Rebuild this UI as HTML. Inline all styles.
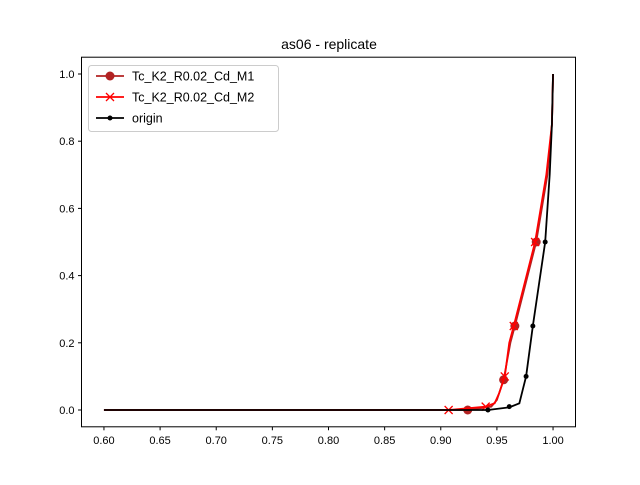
<!DOCTYPE html>
<html><head><meta charset="utf-8"><style>
body{margin:0;background:#fff}
svg{font-family:"Liberation Sans","DejaVu Sans",sans-serif}
</style></head><body>
<svg id="c" width="640" height="480"></svg>
<script>
const originX=[0.6,0.942,0.961,0.970,0.973,0.976,0.982,0.993,0.997,0.999,1.0];
const originY=[0,0,0.008,0.02,0.06,0.1,0.25,0.5,0.7,0.85,1.0];
const originMX=[0.942,0.961,0.976,0.982,0.993];
const originMY=[0,0.01,0.1,0.25,0.5];
const m1X=[0.6,0.924,0.945,0.95,0.954,0.956,0.962,0.966,0.985,0.995,0.999,1.0];
const m1Y=[0,0,0.01,0.03,0.07,0.09,0.2,0.25,0.5,0.7,0.85,1.0];
const m1MX=[0.924,0.956,0.966,0.985];
const m1MY=[0,0.09,0.25,0.5];
const m2X=[0.6,0.907,0.94,0.948,0.952,0.957,0.961,0.965,0.984,0.994,0.999,1.0];
const m2Y=[0,0,0.01,0.02,0.05,0.1,0.2,0.25,0.5,0.7,0.85,1.0];
const m2MX=[0.907,0.94,0.957,0.965,0.984];
const m2MY=[0,0.01,0.1,0.25,0.5];
const xTicks=[0.60,0.65,0.70,0.75,0.80,0.85,0.90,0.95,1.00];
const yTicks=[0.0,0.2,0.4,0.6,0.8,1.0];
const L=81.5,R=575.5,T=57.2,B=426.8,x0=0.58,x1=1.02,y0=-0.05,y1=1.05;
const sx=v=>L+(v-x0)/(x1-x0)*(R-L), sy=v=>B-(v-y0)/(y1-y0)*(B-T);
const svg=document.getElementById('c');const NS='http://www.w3.org/2000/svg';
function el(t,a,p){const e=document.createElementNS(NS,t);for(const k in a)e.setAttribute(k,a[k]);(p||svg).appendChild(e);return e;}
const title=el('text',{x:329,y:49,'text-anchor':'middle','font-size':14});title.textContent='as06 - replicate';


xTicks.forEach(v=>{const x=sx(v);el('line',{x1:x,x2:x,y1:B,y2:B+3.5,stroke:'#000'});const t=el('text',{x:x,y:B+17,'text-anchor':'middle','font-size':11});t.textContent=v.toFixed(2);

});
yTicks.forEach(v=>{const y=sy(v);el('line',{x1:L-3.5,x2:L,y1:y,y2:y,stroke:'#000'});const t=el('text',{x:L-7,y:y+4,'text-anchor':'end','font-size':11});t.textContent=v.toFixed(1);

});
function line(xs,ys,c,name){const p=el('polyline',{points:xs.map((x,i)=>sx(x)+','+sy(ys[i])).join(' '),fill:'none',stroke:c,'stroke-width':1.8});

}
function dots(xs,ys,c,r,name){xs.forEach((x,i)=>{const d=el('circle',{cx:sx(x),cy:sy(ys[i]),r:r,fill:c});

});}
function crosses(xs,ys,c,name){xs.forEach((x,i)=>{const X=sx(x),Y=sy(ys[i]);const g=el('path',{d:`M${X-4} ${Y-4}L${X+4} ${Y+4}M${X-4} ${Y+4}L${X+4} ${Y-4}`,stroke:c,'stroke-width':1.3});

});}
line(m1X,m1Y,'#b22222','m1-line');dots(m1MX,m1MY,'#b22222',4.5,'m1-point');
line(m2X,m2Y,'#ff0000','m2-line');crosses(m2MX,m2MY,'#ff0000','m2-point');
line(originX,originY,'#000','origin-line');dots(originMX,originMY,'#000',2.5,'origin-point');
el('rect',{x:L,y:T,width:R-L,height:B-T,fill:'none',stroke:'#000','stroke-width':1});
const lg=el('g',{});
el('rect',{x:88.5,y:65.5,width:190,height:66,fill:'#fff',stroke:'#ccc',rx:3},lg);
[['Tc_K2_R0.02_Cd_M1','#b22222','o'],['Tc_K2_R0.02_Cd_M2','#ff0000','x'],['origin','#000','.']].forEach((e,i)=>{const y=76+i*21;
el('line',{x1:96,x2:124,y1:y,y2:y,stroke:e[1],'stroke-width':1.8},lg);
if(e[2]=='o')el('circle',{cx:110,cy:y,r:4.5,fill:e[1]},lg);
else if(e[2]=='x')el('path',{d:`M106 ${y-4}L114 ${y+4}M106 ${y+4}L114 ${y-4}`,stroke:e[1],'stroke-width':1.3},lg);
else el('circle',{cx:110,cy:y,r:2.5,fill:e[1]},lg);
const t=el('text',{x:132,y:y+4.5,'font-size':12.5},lg);t.textContent=e[0];

});
</script>
</body></html>
